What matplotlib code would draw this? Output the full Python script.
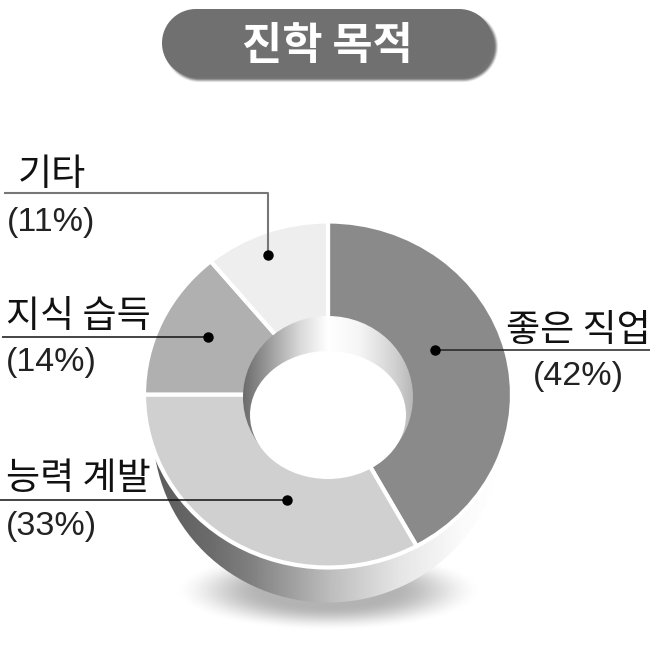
import numpy as np
import matplotlib
matplotlib.use("Agg")
import matplotlib.pyplot as plt
from matplotlib.patches import Ellipse, Polygon

plt.rcParams['font.family'] = ['Noto Sans CJK KR', 'DejaVu Sans']

title = "진학 목적"
categories = ["좋은 직업", "능력 계발", "지식 습득", "기타"]
shares = [42, 33, 14, 11]
colors = ["#8a8a8a", "#d0d0d0", "#b0b0b0", "#eeeeee"]

fig = plt.figure(figsize=(6.5, 6.5), dpi=100, facecolor="white")

def pixel_axes(z):
    ax = fig.add_axes([0, 0, 1, 1], zorder=z)
    ax.set_xlim(0, 650)
    ax.set_ylim(650, 0)
    ax.axis("off")
    return ax

def gradient(ax, clip, xs, grays, extent):
    grid = np.linspace(extent[0], extent[1], 400)
    vals = np.interp(grid, xs, grays)[None, :]
    im = ax.imshow(vals, cmap="gray", vmin=0, vmax=1, extent=extent, aspect="auto",
                   interpolation="bilinear", zorder=2)
    im.set_clip_path(clip)
    ax.set_xlim(0, 650)
    ax.set_ylim(650, 0)

def soft_image(ax, alpha, extent, z):
    rgba = np.zeros(alpha.shape + (4,))
    rgba[..., 3] = alpha
    ax.imshow(rgba, extent=extent, aspect="auto", interpolation="bilinear", zorder=z)
    ax.set_xlim(0, 650)
    ax.set_ylim(650, 0)

bg = pixel_axes(0)

# soft floor shadow
gx, gy = np.meshgrid(np.arange(160, 500), np.arange(540, 645))
d = np.sqrt(((gx - 328) / 156.0) ** 2 + ((gy - 590) / 41.0) ** 2)
t = np.clip((1.0 - d) / 0.6, 0, 1)
soft_image(bg, 0.30 * t * t * (3 - 2 * t), (160, 500, 645, 540), 1)

# extruded side of the ring
side = Ellipse((328, 430), 350, 345, transform=bg.transData, facecolor="none", edgecolor="none")
bg.add_patch(side)
gradient(bg, side, [153, 210, 250, 330, 400, 460, 503], [0.36, 0.42, 0.50, 0.74, 0.90, 0.98, 1.0],
         (153, 503, 610, 260))

# ring
pie_ax = fig.add_axes([(328 - 184) / 650, 1 - 567.5 / 650, 368 / 650, 346 / 650], zorder=1)
pie_ax.pie(shares, colors=colors, startangle=90, counterclock=False, radius=1.0,
           wedgeprops=dict(width=0.62, edgecolor="white", linewidth=3))
pie_ax.set_aspect("auto")
pie_ax.set_xlim(-1, 1)
pie_ax.set_ylim(-1, 1)
for w in pie_ax.patches:
    w.set_clip_on(False)

# hole
top = pixel_axes(2)
wall = Ellipse((328, 397), 170, 162, transform=top.transData, facecolor="none", edgecolor="none")
top.add_patch(wall)
gradient(top, wall, [243, 265, 300, 328, 360, 395, 413], [0.42, 0.58, 0.85, 1.0, 0.96, 0.82, 0.72],
         (243, 413, 480, 315))
top.add_patch(Ellipse((328, 415), 156, 128, facecolor="white", edgecolor="none", zorder=3))

# title pill with blurred drop shadow
px, py = np.meshgrid(np.arange(150, 510), np.arange(0, 95))
seg = np.clip(px - 3, 196, 459)
dist = np.hypot(px - 3 - seg, py - 3 - 43) - 34
s = np.clip((2.5 - dist) / 5.0, 0, 1)
soft_image(top, 0.55 * s * s * (3 - 2 * s), (150, 510, 95, 0), 4)

ang = np.linspace(-np.pi / 2, np.pi / 2, 60)
right = np.column_stack([459 + 34 * np.cos(ang), 43 + 34 * np.sin(ang)])
left = np.column_stack([196 - 34 * np.cos(ang[::-1]), 43 + 34 * np.sin(ang[::-1])])
top.add_patch(Polygon(np.vstack([right, left]), closed=True, facecolor="#707070", edgecolor="none", zorder=5))
top.text(327, 46, title, color="white", fontsize=31.5, fontweight="bold", ha="center", va="center", zorder=6)

# leaders and labels
leaders = [
    ([435, 650], [350, 350], "#222222", 1.1),
    ([287, 0], [500, 500], "#111111", 1.1),
    ([208, 2], [337, 337], "#111111", 1.1),
    ([268, 268, 4], [255, 193, 193], "#777777", 1.5),
]
label_xy = [(578, 331), (78, 478), (78, 316), (52, 175)]
pct_xy = [(578, 377), (51, 527), (51, 363), (51, 222)]
for i, cat in enumerate(categories):
    xs, ys, col, lw = leaders[i]
    top.plot(xs, ys, color=col, lw=lw, zorder=7, solid_capstyle="butt")
    top.plot(xs[0], ys[0], "o", color="black", ms=6.5, zorder=8)
    top.text(*label_xy[i], cat, fontsize=26.7, fontweight="light", color="#111111",
             ha="center", va="center", zorder=7)
    top.text(*pct_xy[i], f"({shares[i]}%)", fontsize=24.5, color="#222222", ha="center", va="center",
             fontfamily=["Liberation Sans"], zorder=7)

fig.savefig("out.png", dpi=100)
